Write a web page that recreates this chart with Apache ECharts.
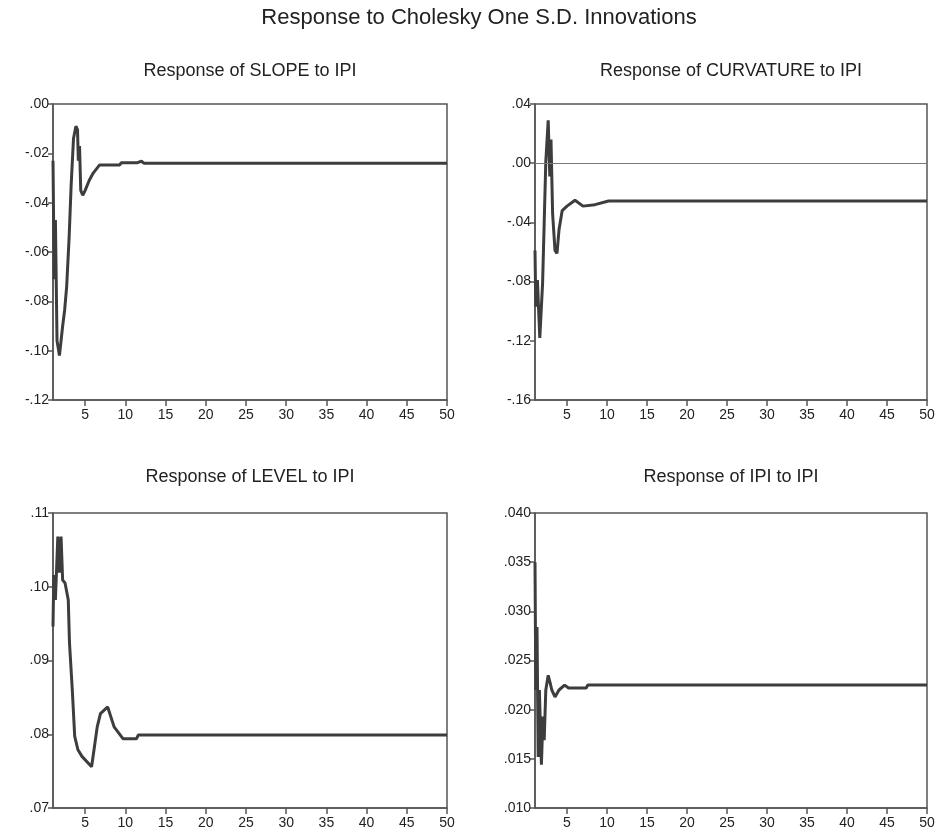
<!DOCTYPE html>
<html>
<head>
<meta charset="utf-8">
<script src="https://cdn.jsdelivr.net/npm/echarts@6/dist/echarts.min.js"></script>
<style>
html,body{margin:0;padding:0;background:#fff;}
#c{width:940px;height:837px;}
</style>
</head>
<body>
<div id="c"></div>
<script>
// ---- data ----
var mainTitle = 'Response to Cholesky One S.D. Innovations';
var panelTitles = ['Response of SLOPE to IPI', 'Response of CURVATURE to IPI', 'Response of LEVEL to IPI', 'Response of IPI to IPI'];
var xTicks = [5, 10, 15, 20, 25, 30, 35, 40, 45, 50];

var slopeX = [1.0, 1.15, 1.3, 1.5, 1.8, 2.0, 2.2, 2.45, 2.7, 3.0, 3.25, 3.55, 3.85, 4.05, 4.15, 4.3, 4.45, 4.7, 5.0, 5.5, 6.0, 6.8, 9.3, 9.5, 11.5, 12.0, 12.3, 50];
var slopeY = [-0.023, -0.071, -0.047, -0.096, -0.102, -0.096, -0.090, -0.0835, -0.074, -0.0545, -0.0335, -0.014, -0.009, -0.0105, -0.023, -0.017, -0.035, -0.037, -0.035, -0.031, -0.028, -0.0247, -0.0247, -0.0238, -0.0238, -0.0232, -0.024, -0.024];

var curvX = [1.0, 1.1, 1.3, 1.6, 1.8, 1.95, 2.15, 2.35, 2.65, 2.85, 3.0, 3.2, 3.5, 3.75, 4.0, 4.4, 5.0, 6.0, 7.0, 8.5, 10.2, 50];
var curvY = [-0.059, -0.097, -0.079, -0.118, -0.118, -0.081, -0.040, 0.001, 0.029, -0.009, 0.016, -0.034, -0.059, -0.061, -0.045, -0.032, -0.029, -0.025, -0.029, -0.028, -0.0255, -0.0255];

var levelX = [1.0, 1.1, 1.3, 1.6, 1.8, 2.0, 2.2, 2.5, 2.9, 3.05, 3.4, 3.7, 4.1, 4.6, 5.8, 6.1, 6.5, 6.9, 7.8, 8.6, 9.7, 11.4, 11.6, 50];
var levelY = [0.0946, 0.1016, 0.0982, 0.1068, 0.1019, 0.1068, 0.1009, 0.1005, 0.0982, 0.0924, 0.086, 0.0797, 0.0779, 0.077, 0.0756, 0.0779, 0.081, 0.0828, 0.0837, 0.081, 0.0794, 0.0794, 0.0799, 0.0799];

var ipiX = [1.0, 1.1, 1.25, 1.4, 1.55, 1.8, 2.0, 2.15, 2.35, 2.65, 2.9, 3.1, 3.5, 4.0, 4.7, 5.2, 7.4, 7.6, 50];
var ipiY = [0.035, 0.022, 0.0284, 0.0152, 0.022, 0.0144, 0.0193, 0.0169, 0.022, 0.0235, 0.0227, 0.022, 0.0213, 0.022, 0.0225, 0.0222, 0.0222, 0.0225, 0.0225];

var yMin = [-0.12, -0.16, 0.07, 0.010];
var yMax = [0.00, 0.04, 0.11, 0.040];
var yStep = [0.02, 0.04, 0.01, 0.005];
var yDigits = [2, 2, 2, 3];

// ---- chart ----
function pairs(xs, ys) { return xs.map(function (x, i) { return [x, ys[i]]; }); }
var seriesData = [pairs(slopeX, slopeY), pairs(curvX, curvY), pairs(levelX, levelY), pairs(ipiX, ipiY)];

var grids = [
  {left: 53, top: 104, width: 394, height: 296},
  {left: 535, top: 104, width: 392, height: 296},
  {left: 53, top: 513, width: 394, height: 295},
  {left: 535, top: 513, width: 392, height: 295}
];
var axisCol = '#555';
var font = 'Liberation Sans, Arial, sans-serif';

function fmt(d) {
  return function (v) {
    var s = Math.abs(v).toFixed(d).replace(/^0/, '');
    return (v < -1e-9 ? '-' : '') + s;
  };
}

var option = {
  backgroundColor: '#fff',
  animation: false,
  title: [{text: mainTitle, left: 479, top: 7, textAlign: 'center', padding: 0,
           textStyle: {fontFamily: font, fontSize: 22, fontWeight: 'normal', color: '#222'}}]
    .concat(panelTitles.map(function (t, i) {
      var g = grids[i];
      return {text: t, left: g.left + g.width / 2, top: i < 2 ? 62 : 468, textAlign: 'center', padding: 0,
              textStyle: {fontFamily: font, fontSize: 18, fontWeight: 'normal', color: '#222'}};
    })),
  grid: grids.map(function (g) {
    return {left: g.left, top: g.top, width: g.width, height: g.height, show: true,
            borderColor: axisCol, borderWidth: 1.5, backgroundColor: '#fff'};
  }),
  xAxis: grids.map(function (g, i) {
    return {type: 'value', gridIndex: i, min: 1, max: 50,
      axisLine: {show: true, onZero: false, lineStyle: {color: axisCol, width: 1.5}},
      axisTick: {show: true, length: 6, customValues: xTicks, lineStyle: {color: axisCol, width: 1.5}},
      axisLabel: {customValues: xTicks, color: '#222', fontFamily: font, fontSize: 14, margin: 8},
      splitLine: {show: false}};
  }),
  yAxis: grids.map(function (g, i) {
    return {type: 'value', gridIndex: i, min: yMin[i], max: yMax[i], interval: yStep[i],
      axisLine: {show: true, onZero: false, lineStyle: {color: axisCol, width: 1.5}},
      axisTick: {show: true, length: 5, lineStyle: {color: axisCol, width: 1.5}},
      axisLabel: {color: '#222', fontFamily: font, fontSize: 14, margin: 4, formatter: fmt(yDigits[i])},
      splitLine: {show: false}};
  }),
  series: seriesData.map(function (d, i) {
    var s = {type: 'line', xAxisIndex: i, yAxisIndex: i, data: d, showSymbol: false, symbol: 'none',
      lineStyle: {color: '#3d3d3d', width: 3}, z: 3};
    if (i === 1) {
      s.markLine = {silent: true, symbol: 'none', label: {show: false},
        lineStyle: {color: '#777', width: 1, type: 'solid'}, data: [{yAxis: 0}]};
    }
    return s;
  })
};

var chart = echarts.init(document.getElementById('c'), null, {renderer: 'canvas'});
chart.setOption(option);
</script>
</body>
</html>
